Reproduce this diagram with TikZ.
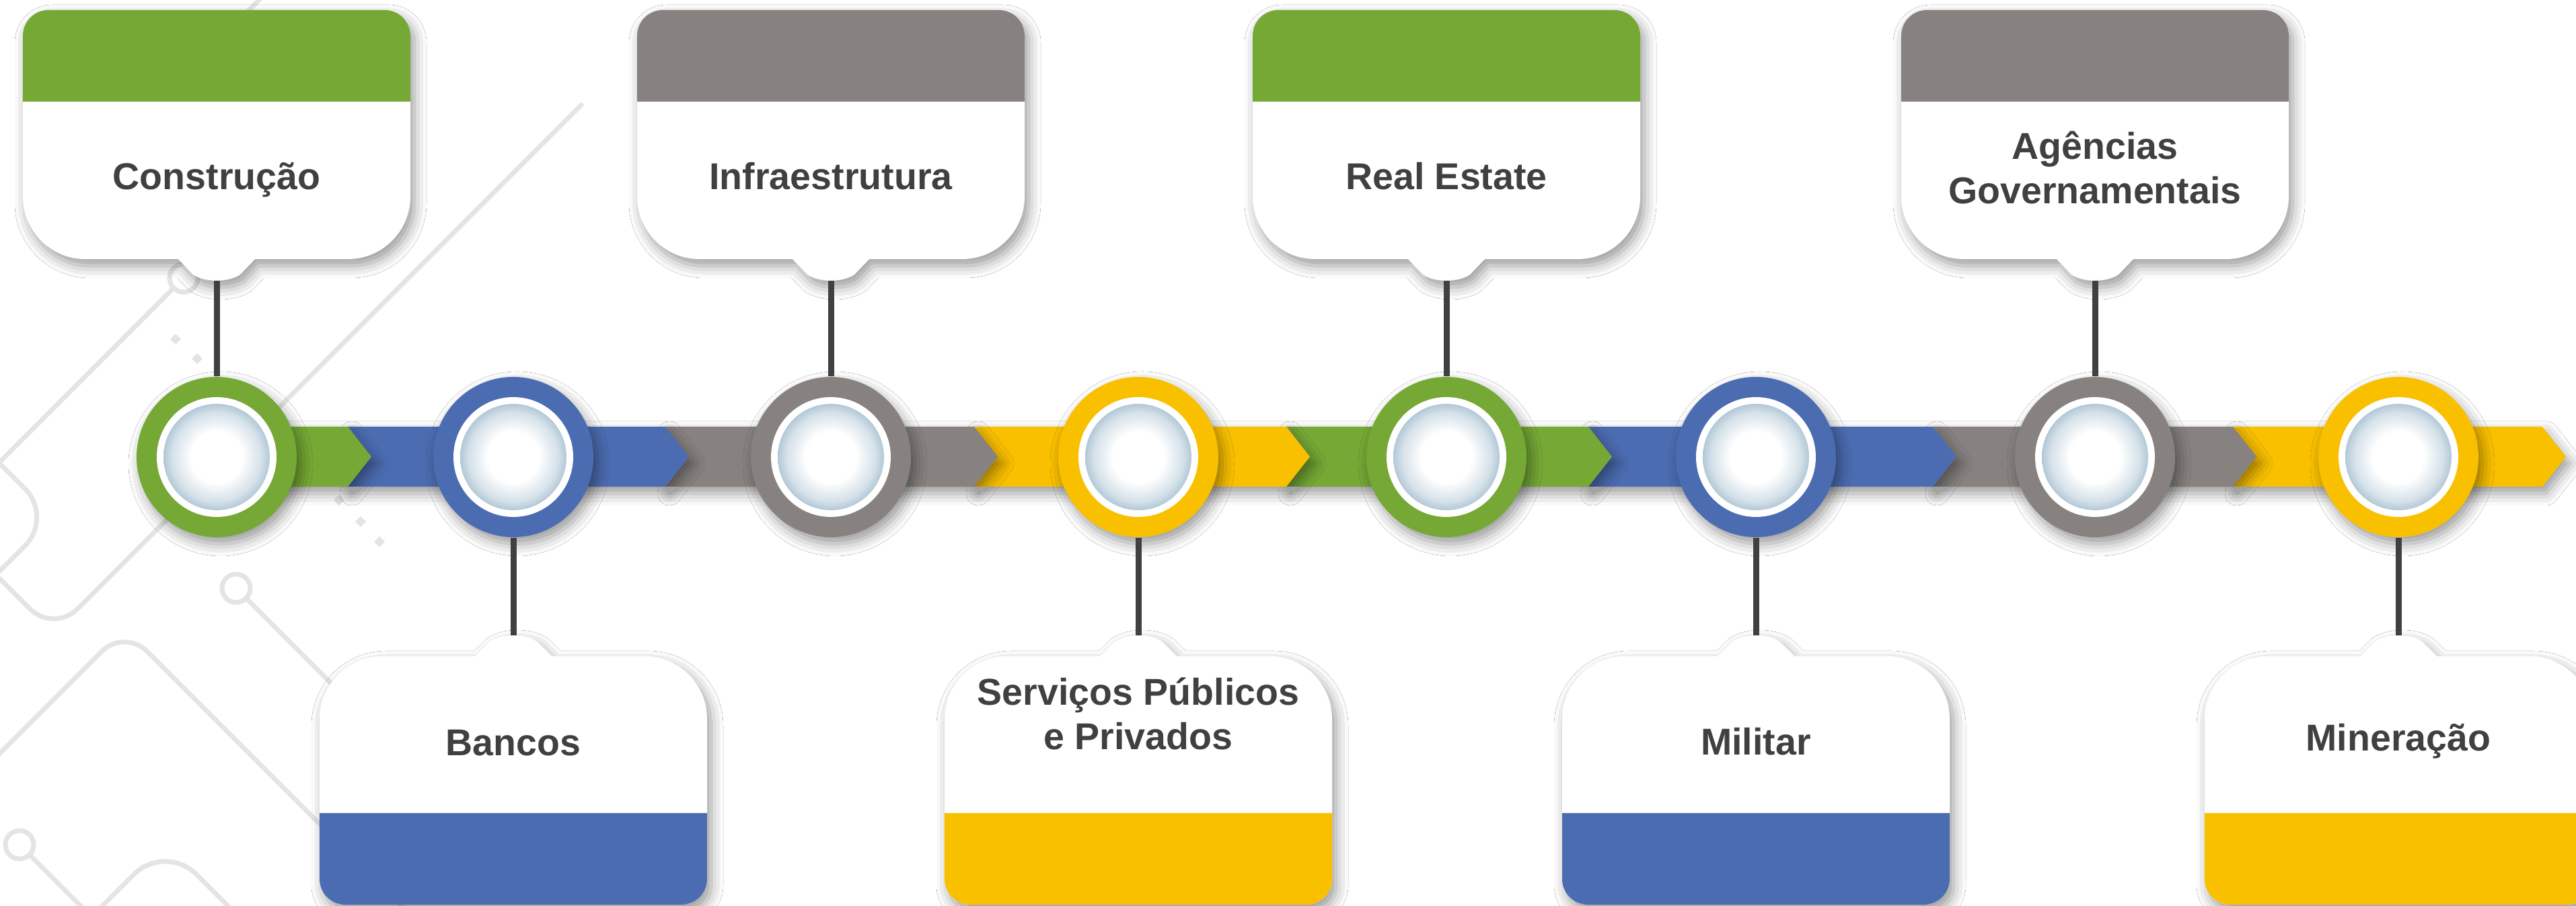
\documentclass[tikz,border=0pt]{standalone}
\usepackage{fontspec}
\setmainfont{Liberation Sans}
\usepackage{tikz}
\usetikzlibrary{shadows.blur}

\definecolor{leafgreen}{RGB}{117,168,53}
\definecolor{slateblue}{RGB}{76,108,178}
\definecolor{stonegray}{RGB}{135,130,128}
\definecolor{sunyellow}{RGB}{249,192,0}
\definecolor{inkgray}{RGB}{64,64,66}
\definecolor{rimblue}{RGB}{178,200,215}
\definecolor{tracegray}{RGB}{228,228,228}

\pgfdeclareradialshading{glass}{\pgfpoint{0cm}{0cm}}{color(0bp)=(white); color(12bp)=(white); color(21bp)=(rimblue!55); color(25bp)=(rimblue); color(50bp)=(rimblue)}

\tikzset{
  softshadow/.style={blur shadow={shadow xshift=0.06cm, shadow yshift=-0.10cm, shadow blur radius=0.18cm, shadow opacity=40}},
  card/.style={fill=white, softshadow},
  band/.style={softshadow},
  hub/.style={circle, inner sep=0pt, minimum size=2.38cm, softshadow},
  stem/.style={draw=inkgray, line width=0.09cm},
  trace/.style={draw=tracegray, line width=0.07cm, line cap=round},
  sector/.style={font=\fontsize{15.8}{19}\selectfont\bfseries, text=inkgray, align=center, anchor=base, inner sep=0pt}
}

% card above the line: centre x, colour, tab coordinate
\newcommand{\topcard}[3]{%
  \path[card] ({#1-2.88},12.93) -- ({#1-2.88},10.54) arc[start angle=180, end angle=270, radius=0.93] -- ({#1-0.57},9.61) -- ({#1-0.35},9.38) .. controls ({#1-0.17},9.26) and ({#1+0.17},9.26) .. ({#1+0.35},9.38) -- ({#1+0.57},9.61) -- ({#1+1.95},9.61) arc[start angle=270, end angle=360, radius=0.93] -- ({#1+2.88},12.93) arc[start angle=0, end angle=90, radius=0.38] -- ({#1-2.50},13.31) arc[start angle=90, end angle=180, radius=0.38] -- cycle;
  \fill[#2] ({#1-2.88},11.95) -- ({#1-2.88},12.93) arc[start angle=180, end angle=90, radius=0.38] -- ({#1+2.50},13.31) arc[start angle=90, end angle=0, radius=0.38] -- ({#1+2.88},11.95) -- cycle;
  \coordinate (#3) at (#1,9.29);
}

% card below the line: centre x, colour, tab coordinate
\newcommand{\botcard}[3]{%
  \path[card] ({#1-2.88},0.40) -- ({#1-2.88},2.78) arc[start angle=180, end angle=90, radius=0.93] -- ({#1-0.57},3.71) -- ({#1-0.35},3.93) .. controls ({#1-0.17},4.05) and ({#1+0.17},4.05) .. ({#1+0.35},3.93) -- ({#1+0.57},3.71) -- ({#1+1.95},3.71) arc[start angle=90, end angle=0, radius=0.93] -- ({#1+2.88},0.40) arc[start angle=0, end angle=-90, radius=0.38] -- ({#1-2.50},0.02) arc[start angle=270, end angle=180, radius=0.38] -- cycle;
  \fill[#2] ({#1-2.88},1.38) -- ({#1-2.88},0.40) arc[start angle=180, end angle=270, radius=0.38] -- ({#1+2.50},0.02) arc[start angle=270, end angle=360, radius=0.38] -- ({#1+2.88},1.38) -- cycle;
  \coordinate (#3) at (#1,4.02);
}

% milestone disc: name, x, colour
\newcommand{\hub}[3]{%
  \node[hub, fill=#3] (#1) at (#2,6.67) {};
  \fill[white] (#1) circle (0.89);
  \shade[shading=glass] (#1) circle (0.79);
}

\begin{document}
\begin{tikzpicture}

    \fill[white] (0,0) rectangle (38.29,13.46);
    \useasboundingbox (0,0) rectangle (38.29,13.46);

    % faint circuit traces, left side
    \draw[trace] (3.95,13.56) -- (1.00,10.61);
    \draw[trace, rounded corners=0.5cm] (8.64,11.90) -- (0.80,4.06) -- (-0.30,5.16);
    \draw[trace, rounded corners=0.6cm] (-0.20,6.77) -- (0.795,5.775) -- (-0.20,4.78);
    \draw[trace, rounded corners=0.48cm] (-0.20,2.07) -- (1.85,4.12) -- (6.00,-0.03);
    \draw[trace, rounded corners=0.66cm] (1.42,-0.10) -- (2.455,0.935) -- (3.49,-0.10);
    \draw[trace] (2.73,9.33) circle (0.21); % ring under the first tab
    \draw[trace] (2.58,9.18) -- (-0.10,6.50);
    \draw[trace] (3.51,4.72) circle (0.21);
    \draw[trace] (3.66,4.57) -- (6.00,2.23);
    \draw[trace] (0.29,0.91) circle (0.21);
    \draw[trace] (0.44,0.76) -- (1.30,-0.10);
    \foreach \p in {(2.61,8.42),(2.93,8.13),(5.04,6.03),(5.36,5.71),(5.64,5.41)}
        \fill[tracegray] \p +(-0.08,0) -- +(0,0.08) -- +(0.08,0) -- +(0,-0.08) -- cycle;

    % cards above the line
    \topcard{3.22}{leafgreen}{t1}
    \topcard{12.35}{stonegray}{t3}
    \topcard{21.50}{leafgreen}{t5}
    \topcard{31.14}{stonegray}{t7}

    % cards below the line
    \botcard{7.63}{slateblue}{t2}
    \botcard{16.92}{sunyellow}{t4}
    \botcard{26.10}{slateblue}{t6}
    \botcard{35.65}{sunyellow}{t8}

    % arrow band, drawn from the right so each tip lies on the next piece
    \fill[band, sunyellow] (33.19,7.12) -- (37.79,7.12) -- (38.14,6.675) -- (37.79,6.23) -- (33.19,6.23) -- (33.54,6.675) -- cycle;
    \fill[band, stonegray] (28.73,7.12) -- (33.19,7.12) -- (33.54,6.675) -- (33.19,6.23) -- (28.73,6.23) -- (29.08,6.675) -- cycle;
    \fill[band, slateblue] (23.61,7.12) -- (28.73,7.12) -- (29.08,6.675) -- (28.73,6.23) -- (23.61,6.23) -- (23.96,6.675) -- cycle;
    \fill[band, leafgreen] (19.12,7.12) -- (23.61,7.12) -- (23.96,6.675) -- (23.61,6.23) -- (19.12,6.23) -- (19.47,6.675) -- cycle;
    \fill[band, sunyellow] (14.48,7.12) -- (19.12,7.12) -- (19.47,6.675) -- (19.12,6.23) -- (14.48,6.23) -- (14.83,6.675) -- cycle;
    \fill[band, stonegray] (9.89,7.12) -- (14.48,7.12) -- (14.83,6.675) -- (14.48,6.23) -- (9.89,6.23) -- (10.24,6.675) -- cycle;
    \fill[band, slateblue] (5.17,7.12) -- (9.89,7.12) -- (10.24,6.675) -- (9.89,6.23) -- (5.17,6.23) -- (5.52,6.675) -- cycle;
    \fill[band, leafgreen] (3.22,7.12) -- (5.17,7.12) -- (5.52,6.675) -- (5.17,6.23) -- (3.22,6.23) -- cycle;

    % milestone discs
    \hub{c1}{3.22}{leafgreen}
    \hub{c2}{7.63}{slateblue}
    \hub{c3}{12.35}{stonegray}
    \hub{c4}{16.92}{sunyellow}
    \hub{c5}{21.50}{leafgreen}
    \hub{c6}{26.10}{slateblue}
    \hub{c7}{31.14}{stonegray}
    \hub{c8}{35.65}{sunyellow}

    % stems from the tabs to the discs
    \draw[stem] (t1) -- (c1);
    \draw[stem] (t2) -- (c2);
    \draw[stem] (t3) -- (c3);
    \draw[stem] (t4) -- (c4);
    \draw[stem] (t5) -- (c5);
    \draw[stem] (t6) -- (c6);
    \draw[stem] (t7) -- (c7);
    \draw[stem] (t8) -- (c8);

    % sector names (base = baseline of the last line)
    \node[sector] (construcao) at (3.22,10.64) {Construção};
    \node[sector] (infra) at (12.35,10.64) {Infraestrutura};
    \node[sector] (realestate) at (21.50,10.64) {Real Estate};
    \node[sector] (agencias) at (31.14,10.43) {Agências\\Governamentais};
    \node[sector] (bancos) at (7.63,2.23) {Bancos};
    \node[sector] (servicos) at (16.92,2.32) {Serviços Públicos\\e Privados};
    \node[sector] (militar) at (26.10,2.24) {Militar};
    \node[sector] (mineracao) at (35.65,2.30) {Mineração};

\end{tikzpicture}
\end{document}
